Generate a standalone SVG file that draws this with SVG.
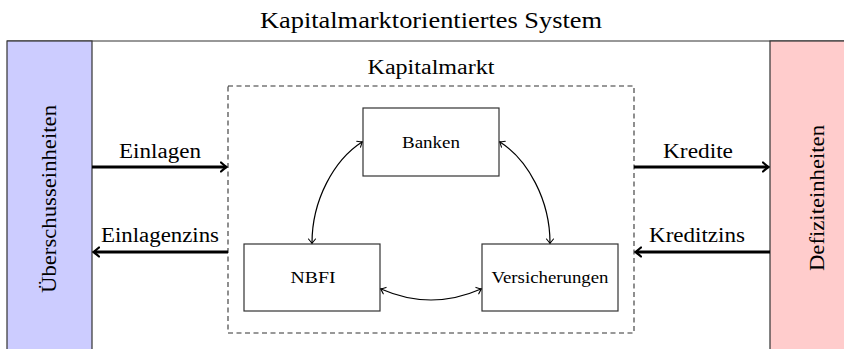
<svg xmlns="http://www.w3.org/2000/svg" width="844" height="349" viewBox="0 0 844 349">
<style>
text{font-family:"Liberation Serif","Times New Roman",serif;fill:#000}
.box{fill:#fff;stroke:#333;stroke-width:1.2}
.thick{stroke:#000;stroke-width:3.2;fill:none}
.thin{stroke:#000;stroke-width:1.2;fill:none}
.lbl{font-size:20px;text-anchor:middle}
.node{font-size:16px;text-anchor:middle}
</style>
<defs>
<marker id="big" viewBox="-6 -6 8 12" markerWidth="8" markerHeight="12" refX="0" refY="0" orient="auto" markerUnits="userSpaceOnUse">
<path d="M-5,-4.5 Q-1,-1 0.5,0 Q-1,1 -5,4.5" fill="none" stroke="#000" stroke-width="2.2" stroke-linecap="round"/>
</marker>
<marker id="sm" viewBox="-6 -5 8 10" markerWidth="8" markerHeight="10" refX="0" refY="0" orient="auto-start-reverse" markerUnits="userSpaceOnUse">
<path d="M-4,-3.5 Q-1,-1 0.3,0 Q-1,1 -4,3.5" fill="none" stroke="#000" stroke-width="1.1" stroke-linecap="round"/>
</marker>
</defs>
<text x="431" y="28" font-size="23" text-anchor="middle" textLength="342" lengthAdjust="spacingAndGlyphs">Kapitalmarktorientiertes System</text>
<line x1="7" y1="41" x2="844" y2="41" stroke="#333" stroke-width="1.2"/>
<g id="ueberschuss">
<rect x="7" y="41" width="85" height="310" fill="#ccccff" stroke="#333" stroke-width="1.2"/>
<text transform="translate(56,199) rotate(-90)" class="lbl" textLength="188" lengthAdjust="spacingAndGlyphs">Überschusseinheiten</text>
</g>
<g id="defizit">
<rect x="770" y="41" width="80" height="310" fill="#ffcccc" stroke="#333" stroke-width="1.2"/>
<text transform="translate(824,198) rotate(-90)" class="lbl" textLength="146" lengthAdjust="spacingAndGlyphs">Defiziteinheiten</text>
</g>
<g id="kapitalmarkt">
<rect x="228" y="86" width="406" height="247" fill="none" stroke="#333" stroke-width="1.1" stroke-dasharray="5,3.5"/>
<text x="431" y="74" font-size="20" text-anchor="middle" textLength="127" lengthAdjust="spacingAndGlyphs">Kapitalmarkt</text>
</g>
<g id="banken">
<rect class="box" x="363" y="108" width="136" height="68"/>
<text class="node" x="431" y="148" textLength="58" lengthAdjust="spacingAndGlyphs">Banken</text>
</g>
<g id="nbfi">
<rect class="box" x="244" y="244" width="136" height="67"/>
<text class="node" x="313" y="283" textLength="45" lengthAdjust="spacingAndGlyphs">NBFI</text>
</g>
<g id="versicherungen">
<rect class="box" x="482" y="244" width="136" height="67"/>
<text class="node" x="550" y="283" textLength="117" lengthAdjust="spacingAndGlyphs">Versicherungen</text>
</g>
<g id="connectors">
<line class="thick" x1="92" y1="167" x2="226" y2="167" marker-end="url(#big)"/>
<line class="thick" x1="228" y1="252" x2="94" y2="252" marker-end="url(#big)"/>
<line class="thick" x1="634" y1="167" x2="768" y2="167" marker-end="url(#big)"/>
<line class="thick" x1="770" y1="252" x2="636" y2="252" marker-end="url(#big)"/>
<path class="thin" d="M362,142 C334,160 312,200 312,243" marker-start="url(#sm)" marker-end="url(#sm)"/>
<path class="thin" d="M500,142 C528,160 550,200 550,243" marker-start="url(#sm)" marker-end="url(#sm)"/>
<path class="thin" d="M381,289 Q431,311 481,289" marker-start="url(#sm)" marker-end="url(#sm)"/>
<text class="lbl" x="160" y="158" textLength="82" lengthAdjust="spacingAndGlyphs">Einlagen</text>
<text class="lbl" x="160" y="242" textLength="118" lengthAdjust="spacingAndGlyphs">Einlagenzins</text>
<text class="lbl" x="698" y="158" textLength="70" lengthAdjust="spacingAndGlyphs">Kredite</text>
<text class="lbl" x="697" y="242" textLength="96" lengthAdjust="spacingAndGlyphs">Kreditzins</text>
</g>
</svg>
